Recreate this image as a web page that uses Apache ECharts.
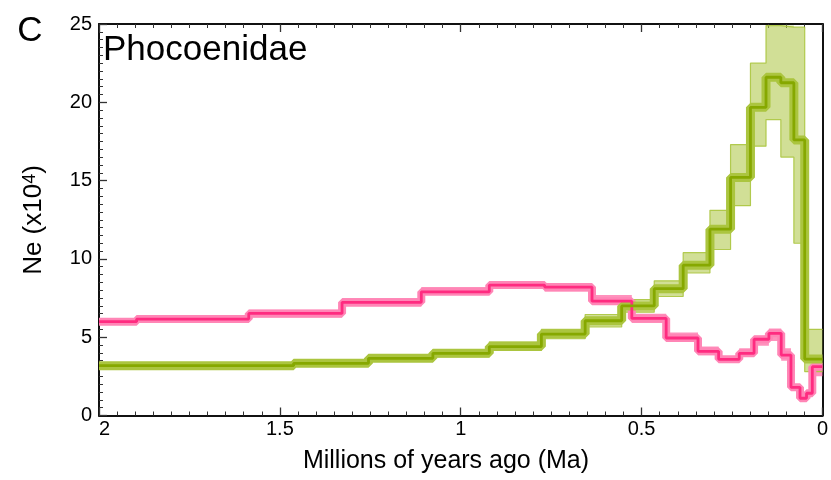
<!DOCTYPE html>
<html><head><meta charset="utf-8">
<script src="https://cdn.jsdelivr.net/npm/echarts@6/dist/echarts.min.js"></script>
<style>html,body{margin:0;padding:0;background:#fff}#c{width:831px;height:480px}</style>
</head><body><div id="c"></div>
<script>
// Tick values
const xTicks = [0, 0.5, 1, 1.5, 2];
const yTicks = [0, 5, 10, 15, 20, 25];
const tEnd = 2;

// Pink lineage: segment start times (Ma), Ne (x10^4), bootstrap envelope
const pinkT  = [0, 0.028, 0.044, 0.062, 0.087, 0.114, 0.148, 0.189, 0.230, 0.287, 0.344, 0.432, 0.527, 0.637, 0.768, 0.921, 1.109, 1.328, 1.586, 1.896];
const pinkNe = [3.12, 1.42, 1.10, 1.80, 3.86, 5.25, 4.87, 3.97, 3.59, 4.10, 4.95, 6.20, 7.30, 8.20, 8.33, 7.90, 7.23, 6.52, 6.16, 5.99];
const pinkHi = [3.35, 1.60, 1.30, 2.00, 4.30, 5.55, 5.10, 4.30, 3.80, 4.40, 5.30, 6.50, 7.70, 8.45, 8.55, 8.20, 7.50, 6.75, 6.35, 6.20];
const pinkLo = [2.50, 1.20, 0.95, 1.60, 3.50, 4.75, 4.45, 3.75, 3.35, 3.85, 4.70, 5.90, 7.05, 7.90, 8.10, 7.70, 6.95, 6.25, 5.95, 5.80];

// Green lineage
const greenT  = [0, 0.049, 0.079, 0.115, 0.156, 0.199, 0.254, 0.311, 0.385, 0.465, 0.555, 0.656, 0.777, 0.921, 1.077, 1.255, 1.462];
const greenNe = [3.60, 17.60, 21.25, 21.60, 19.68, 15.20, 11.90, 9.60, 8.10, 7.00, 6.05, 5.20, 4.40, 3.97, 3.65, 3.33, 3.18];
const greenHi = [5.50, 24.80, 24.90, 24.90, 22.50, 17.30, 13.10, 10.40, 8.60, 7.40, 6.45, 5.50, 4.70, 4.20, 3.85, 3.50, 3.30];
const greenLo = [2.80, 11.00, 16.50, 18.90, 17.20, 13.40, 10.60, 9.10, 7.60, 6.60, 5.65, 4.90, 4.15, 3.75, 3.45, 3.20, 3.05];

const PINK = '#ff2b80', PINK_BAND = '#ff86b6';
const GREEN = '#86a800', GREEN_BAND = '#abc53f';
const FONT = 'Liberation Sans, Arial, Helvetica, sans-serif';

function stepData(T, V) {
  const d = T.map((t, i) => [t, V[i]]);
  d.push([tEnd, V[V.length - 1]]);
  return d;
}
function bandPoly(T, hi, lo) {
  const up = [], dn = [];
  for (let i = 0; i < T.length; i++) {
    const t1 = i + 1 < T.length ? T[i + 1] : tEnd;
    up.push([T[i], hi[i]], [t1, hi[i]]);
    dn.push([T[i], lo[i]], [t1, lo[i]]);
  }
  return up.concat(dn.reverse());
}
function bandSeries(T, hi, lo, color, opacity) {
  const poly = bandPoly(T, hi, lo);
  return {
    type: 'custom', silent: true, z: 1, clip: true,
    data: [[0, 0]],
    renderItem: (params, api) => ({
      type: 'polygon',
      shape: { points: poly.map(p => api.coord(p)) },
      style: { fill: color, opacity: opacity }
    })
  };
}
function edgeSeries(T, V, color) {
  return { type: 'line', step: 'end', data: stepData(T, V), symbol: 'none', silent: true, z: 2,
    lineStyle: { color: color, width: 1.2, opacity: 0.9 } };
}
function underlay(T, V, color, w) {
  return { type: 'line', step: 'end', data: stepData(T, V), symbol: 'none', silent: true, z: 3,
    lineStyle: { color: color, width: w } };
}
function mainLine(T, V, color) {
  return { type: 'line', step: 'end', data: stepData(T, V), symbol: 'none', silent: true, z: 5,
    lineStyle: { color: color, width: 2.8 } };
}

const axisCommonX = {
  type: 'value', min: xTicks[0], max: xTicks[xTicks.length - 1], interval: xTicks[1] - xTicks[0], inverse: true,
  axisLine: { show: true, onZero: false, lineStyle: { color: '#111', width: 2 } },
  axisTick: { show: true, inside: true, length: 8, lineStyle: { color: '#333', width: 1.3 } },
  minorTick: { show: true, splitNumber: 10, length: 4, lineStyle: { color: '#333', width: 1 } },
  splitLine: { show: false }, minorSplitLine: { show: false }
};
const axisCommonY = {
  type: 'value', min: yTicks[0], max: yTicks[yTicks.length - 1], interval: yTicks[1] - yTicks[0],
  axisLine: { show: true, onZero: false, lineStyle: { color: '#111', width: 2 } },
  axisTick: { show: true, inside: true, length: 8, lineStyle: { color: '#333', width: 1.3 } },
  minorTick: { show: true, splitNumber: 10, length: 4, lineStyle: { color: '#333', width: 1 } },
  splitLine: { show: false }, minorSplitLine: { show: false }
};

const chart = echarts.init(document.getElementById('c'), null, { renderer: 'canvas' });
chart.setOption({
  animation: false,
  backgroundColor: '#fff',
  grid: { left: 99, right: 1, top: 24, bottom: 64.5, containLabel: false },
  xAxis: [
    Object.assign({}, axisCommonX, { position: 'bottom',
      axisLabel: { show: true, fontSize: 20, color: '#000', fontFamily: FONT, margin: 4, alignMaxLabel: 'left',
        formatter: v => String(v) } }),
    Object.assign({}, axisCommonX, { position: 'top', axisLabel: { show: false } })
  ],
  yAxis: [
    Object.assign({}, axisCommonY, { position: 'left',
      axisLabel: { show: true, fontSize: 20, color: '#000', fontFamily: FONT, margin: 7 } }),
    Object.assign({}, axisCommonY, { position: 'right', axisTick: { show: false }, minorTick: { show: false },
      axisLabel: { show: false } })
  ],
  series: [
    bandSeries(pinkT, pinkHi, pinkLo, PINK_BAND, 0.9),
    bandSeries(greenT, greenHi, greenLo, GREEN_BAND, 0.55),
    edgeSeries(greenT, greenHi, GREEN_BAND),
    edgeSeries(greenT, greenLo, GREEN_BAND),
    underlay(pinkT, pinkNe, PINK_BAND, 8),
    underlay(greenT, greenNe, GREEN_BAND, 9),
    mainLine(pinkT, pinkNe, PINK),
    mainLine(greenT, greenNe, GREEN)
  ],
  graphic: [
    { type: 'text', x: 30, y: 31, style: { text: 'C', font: '35px ' + FONT, fill: '#000', align: 'center', verticalAlign: 'middle' } },
    { type: 'text', x: 103, y: 50, style: { text: 'Phocoenidae', font: '35px ' + FONT, fill: '#000', align: 'left', verticalAlign: 'middle' } },
    { type: 'text', x: 446, y: 461, style: { text: 'Millions of years ago (Ma)', font: '25px ' + FONT, fill: '#000', align: 'center', verticalAlign: 'middle' } },
    { type: 'text', x: 34, y: 220, rotation: Math.PI / 2,
      style: { text: '{n|Ne (x10}{s|4}{n|)}', align: 'center', verticalAlign: 'middle', fill: '#000',
        rich: { n: { fontSize: 26, fontFamily: FONT, verticalAlign: 'bottom', fill: '#000' },
                s: { fontSize: 18, fontFamily: FONT, verticalAlign: 'top', fill: '#000' } } } }
  ]
});
</script>
</body></html>
